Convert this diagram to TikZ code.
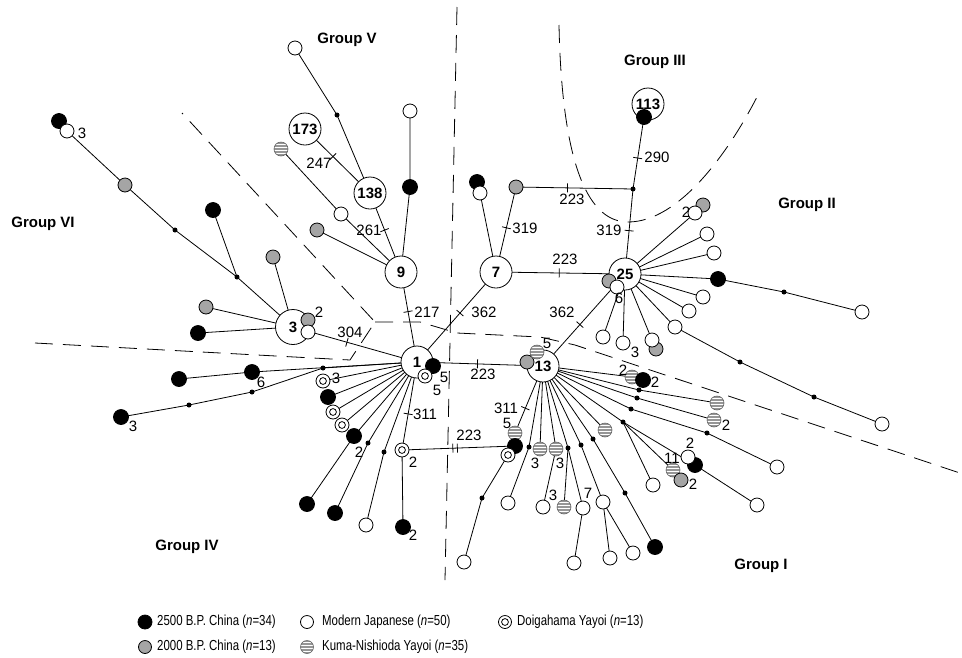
\documentclass[tikz,border=0pt]{standalone}
\usepackage{fontspec}
\setmainfont{Liberation Sans}
\newfontfamily\legfont[FakeStretch=0.79]{Liberation Sans}
\usetikzlibrary{calc}
\pgfdeclarelayer{bg}
\pgfsetlayers{bg,main}
\definecolor{cgray}{RGB}{165,165,165}
\definecolor{sgray}{RGB}{150,150,150}
\tikzset{
 con/.style={line width=0.8pt},
 bign/.style={circle, draw, fill=white, line width=0.8pt, minimum size=32pt, inner sep=0pt, font=\bfseries\fontsize{15}{15}\selectfont},
 wn/.style={circle, draw, fill=white, line width=0.8pt, minimum size=14pt, inner sep=0pt},
 bn/.style={circle, draw=black, fill=black, line width=0.8pt, minimum size=15pt, inner sep=0pt},
 gn/.style={circle, draw=black, fill=cgray, line width=0.8pt, minimum size=14pt, inner sep=0pt},
 sn/.style={circle, draw=gray!80!black, fill=sgray, line width=0.6pt, minimum size=14pt, inner sep=0pt,
   path picture={\foreach \yy in {-4.2,-1.4,1.4,4.2}{\draw[white,line width=1pt] ([yshift=\yy pt]path picture bounding box.west) -- ([yshift=\yy pt]path picture bounding box.east);}}},
 dn/.style={wn, path picture={\draw[line width=0.8pt] (path picture bounding box.center) circle (3.4pt);}},
 mdot/.style={circle, fill=black, minimum size=5pt, inner sep=0pt},
 lab/.style={inner sep=0pt, font=\fontsize{15}{15}\selectfont},
 grp/.style={inner sep=0pt, font=\bfseries\fontsize{15}{15}\selectfont},
 bound/.style={line width=0.8pt, dash pattern=on 18pt off 10pt},
 mtick/.style={sloped, draw, rectangle, inner sep=0pt, minimum width=0pt, minimum height=9pt, line width=0.8pt},
 legt/.style={inner sep=0pt, anchor=west, font=\legfont\fontsize{14.5}{14.5}\selectfont},
}
\begin{document}
\begin{tikzpicture}[x=1pt,y=-1pt]
\useasboundingbox (0,0) rectangle (962,657);
% ---------- big nodes
\node[bign] (n1) at (417,362) {1};
\node[bign, minimum size=35pt] (n3) at (293,327) {3};
\node[bign] (n9) at (401,272) {9};
\node[bign] (n138) at (370,193) {138};
\node[bign] (n173) at (305,129) {173};
\node[bign] (n7) at (496,272) {7};
\node[bign] (n25) at (625,274) {25};
\node[bign] (n113) at (648,104) {113};
\node[bign] (n13) at (543,366) {13};
% ---------- Group VI
\node[bn] (bVIa0) at (59,121) {};
\node[wn] (wVI) at (67,131) {};
\node[gn] (gVIa) at (125,185) {};
\node[mdot] (dVIa) at (175,230) {};
\node[mdot] (dVIb) at (237,277) {};
\node[bn] (bVIa) at (213,210) {};
\node[gn] (gVIb) at (273,257) {};
\node[gn] (gVIc) at (206,307) {};
\node[bn] (bVIb) at (198,333) {};
\node[gn] (gVId) at (308,320) {};
\node[wn] (wVId) at (308,332) {};
% ---------- Group V
\node[wn] (wV1) at (295,48) {};
\node[mdot] (dV1) at (337,115) {};
\node[sn] (sV) at (281,149) {};
\node[wn] (wV2) at (341,214) {};
\node[gn] (gV) at (317,230) {};
\node[wn] (wV3) at (410,111) {};
\node[bn] (bV) at (410,187) {};
% ---------- Group III
\node[bn] (bIII) at (644,117) {};
\node[mdot] (dA) at (633,189) {};
\node[gn] (gIII) at (516,187) {};
\node[bn] (bIIIb) at (477,182) {};
\node[wn] (wIII) at (480,193) {};
% ---------- Group II
\node[gn] (gII1) at (703,205) {};
\node[wn] (wII1) at (695,213) {};
\node[wn] (wII2) at (707,234) {};
\node[wn] (wII3) at (714,253) {};
\node[bn] (bII) at (718,279) {};
\node[mdot] (dII1) at (784,292) {};
\node[wn] (wII4) at (862,312) {};
\node[wn] (wII5) at (703,297) {};
\node[wn] (wII6) at (689,311) {};
\node[wn] (wII7) at (675,327) {};
\node[mdot] (dII2) at (740,362) {};
\node[mdot] (dII3) at (814,397) {};
\node[wn] (wII8) at (882,424) {};
\node[gn] (gII2) at (656,349) {};
\node[wn] (wII9) at (652,340) {};
\node[wn] (wII10) at (623,343) {};
\node[wn] (wII11) at (603,337) {};
\node[gn] (gII3) at (609,281) {};
\node[wn] (wII12) at (617,287) {};
% ---------- Group I
\node[gn] (gI0) at (527,362) {};
\node[sn] (sI0) at (537,352) {};
\node[sn] (sI1) at (632,377) {};
\node[bn] (bI1) at (643,380) {};
\node[mdot] (dI1) at (639,390) {};
\node[sn] (sI2) at (717,403) {};
\node[mdot] (dI2) at (637,398) {};
\node[sn] (sI3) at (714,420) {};
\node[mdot] (dI3) at (631,409) {};
\node[mdot] (dI4) at (707,433) {};
\node[wn] (wI1) at (777,467) {};
\node[mdot] (dI5) at (623,422) {};
\node[wn] (wI2) at (653,485) {};
\node[bn] (bI2) at (695,465) {};
\node[wn] (wI4) at (688,457) {};
\node[sn] (sI4) at (673,470) {};
\node[gn] (gI1) at (681,480) {};
\node[wn] (wI3) at (757,505) {};
\node[sn] (sI5) at (605,430) {};
\node[mdot] (dI6) at (593,439) {};
\node[mdot] (dI7) at (625,493) {};
\node[bn] (bI3) at (655,547) {};
\node[mdot] (dI8) at (581,445) {};
\node[wn] (wI5) at (603,502) {};
\node[wn] (wI6) at (610,558) {};
\node[wn] (wI7) at (633,553) {};
\node[mdot] (dI9) at (568,448) {};
\node[sn] (sI6) at (564,507) {};
\node[wn] (wI8) at (583,508) {};
\node[wn] (wI9) at (574,563) {};
\node[sn] (sI7) at (556,449) {};
\node[wn] (wI10) at (543,507) {};
\node[sn] (sI8) at (540,449) {};
\node[mdot] (dI10) at (529,447) {};
\node[wn] (wI11) at (508,503) {};
\node[sn] (sI9) at (515,433) {};
\node[bn] (bI4) at (515,446) {};
\node[dn] (dnI1) at (508,455) {};
\node[mdot] (dI11) at (482,498) {};
\node[wn] (wI12) at (464,562) {};
% ---------- Group IV
\node[bn] (bIV0) at (433,366) {};
\node[dn] (dn0) at (425,376) {};
\node[bn] (bIV1) at (179,379) {};
\node[bn] (bIV2) at (252,372) {};
\node[bn] (bIV3) at (121,417) {};
\node[mdot] (dIV1) at (189,405) {};
\node[mdot] (dIV2) at (252,392) {};
\node[mdot] (dIV3) at (323,368) {};
\node[dn] (dn1) at (323,381) {};
\node[bn] (bIV4) at (328,397) {};
\node[dn] (dn2) at (333,412) {};
\node[dn] (dn3) at (342,425) {};
\node[bn] (bIV5) at (354,436) {};
\node[bn] (bIV6) at (307,504) {};
\node[mdot] (dIV4) at (368,443) {};
\node[bn] (bIV7) at (335,513) {};
\node[mdot] (dIV5) at (384,452) {};
\node[wn] (wIV1) at (366,525) {};
\node[dn] (dn4) at (402,450) {};
\node[bn] (bIV8) at (403,527) {};
% ---------- connectors and boundaries
\begin{pgfonlayer}{bg}
\draw[bound] (35,343) -- (350,360) -- (375,322) -- (182,113);
\draw[bound] (375,322) -- (420,322) -- (457,333) -- (540,337) -- (575,345) -- (960,473);
\draw[bound] (457,7) -- (445,580);
\draw[bound] (559,25) .. controls (562,170) and (590,222) .. (628,222) .. controls (680,222) and (730,150) .. (758,95);
% VI
\draw[con] (wVI.center) -- (gVIa.center) -- (dVIa.center) -- (dVIb.center) -- (n3.center);
\draw[con] (bVIa.center) -- (dVIb.center);
\draw[con] (gVIb.center) -- (n3.center);
\draw[con] (gVIc.center) -- (n3.center);
\draw[con] (bVIb.center) -- (n3.center);
\draw[con] (n3.center) -- node[mtick,pos=.435]{} (n1.center);
% V
\draw[con] (wV1.center) -- (dV1.center) -- (n138.center);
\draw[con] (n173.center) -- node[mtick,pos=.43]{} (n138.center);
\draw[con] (n138.center) -- node[mtick,pos=.47]{} (n9.center);
\draw[con] (sV.center) -- (wV2.center) -- (n9.center);
\draw[con] (gV.center) -- (n9.center);
\draw[con] (wV3.center) -- (bV.center) -- (n9.center);
\draw[con] (n9.center) -- node[mtick,pos=.44]{} (n1.center);
% III
\draw[con] (bIII.center) -- node[mtick,pos=.57]{} (dA.center);
\draw[con] (dA.center) -- node[mtick,pos=.49]{} (n25.center);
\draw[con] (dA.center) -- node[mtick,pos=.56]{} (gIII.center);
\draw[con] (gIII.center) -- node[mtick,pos=.48]{} (n7.center);
\draw[con] (wIII.center) -- (n7.center);
\draw[con] (n7.center) -- node[mtick,pos=.49]{} (n25.center);
\draw[con] (n7.center) -- node[mtick,pos=.456]{} (n1.center);
% II
\foreach \tg in {wII1,wII2,wII3,bII,wII5,wII6,wII7,wII9,wII10,wII11}
  \draw[con] (n25.center) -- (\tg.center);
\draw[con] (bII.center) -- (dII1.center) -- (wII4.center);
\draw[con] (wII7.center) -- (dII2.center) -- (dII3.center) -- (wII8.center);
\draw[con] (n13.center) -- node[mtick,pos=.45]{} (n25.center);
% I
\draw[con] (n1.center) -- node[mtick,pos=.48]{} (n13.center);
\foreach \tg in {sI1,dI1,dI2,dI3,dI5,sI5,dI6,dI8,dI9,sI7,sI8,dI10}
  \draw[con] (n13.center) -- (\tg.center);
\draw[con] (dI1.center) -- (sI2.center);
\draw[con] (dI2.center) -- (sI3.center);
\draw[con] (dI3.center) -- (dI4.center) -- (wI1.center);
\draw[con] (dI5.center) -- (wI2.center);
\draw[con] (dI5.center) -- (sI4.center);
\draw[con] (dI5.center) -- (bI2.center) -- (wI3.center);
\draw[con] (dI6.center) -- (dI7.center) -- (bI3.center);
\draw[con] (dI8.center) -- (wI5.center) -- (wI6.center);
\draw[con] (wI5.center) -- (wI7.center);
\draw[con] (dI9.center) -- (sI6.center);
\draw[con] (dI9.center) -- (wI8.center) -- (wI9.center);
\draw[con] (sI7.center) -- (wI10.center);
\draw[con] (dI10.center) -- (wI11.center);
\draw[con] (n13.center) -- node[mtick,pos=.63]{} (sI9.center);
\draw[con] (dn4.center) -- node[mtick,pos=.45]{} node[mtick,pos=.49]{} (bI4.center);
\draw[con] (dnI1.center) -- (dI11.center) -- (wI12.center);
% IV
\draw[con] (bIV1.center) -- (bIV2.center) -- (n1.center);
\draw[con] (bIV3.center) -- (dIV1.center) -- (dIV2.center) -- (dIV3.center) -- (n1.center);
\foreach \tg in {dn1,bIV4,dn2,dn3,bIV5,dIV4,dIV5}
  \draw[con] (n1.center) -- (\tg.center);
\draw[con] (bIV5.center) -- (bIV6.center);
\draw[con] (dIV4.center) -- (bIV7.center);
\draw[con] (dIV5.center) -- (wIV1.center);
\draw[con] (n1.center) -- node[mtick,pos=.59]{} (dn4.center);
\draw[con] (dn4.center) -- (bIV8.center);
\end{pgfonlayer}
% ---------- mutation labels
\node[lab] (t247) at (319,163) {247};
\node[lab] (t261) at (369,230) {261};
\node[lab] (t217) at (427,312) {217};
\node[lab] (t362a) at (484,312) {362};
\node[lab] (t290) at (657,157) {290};
\node[lab] (t319a) at (609,230) {319};
\node[lab] (t223a) at (572,199) {223};
\node[lab] (t319b) at (525,228) {319};
\node[lab] (t223b) at (565,259) {223};
\node[lab] (t362b) at (562,312) {362};
\node[lab] (t304) at (350,332) {304};
\node[lab] (t223c) at (483,374) {223};
\node[lab] (t311a) at (425,414) {311};
\node[lab] (t223d) at (469,435) {223};
\node[lab] (t311b) at (506,408) {311};
% ---------- count labels
\node[lab] (c1) at (82,133) {3};
\node[lab] (c2) at (319,312) {2};
\node[lab] (c3) at (261,382) {6};
\node[lab] (c4) at (133,426) {3};
\node[lab] (c5) at (336,378) {3};
\node[lab] (c6) at (444,377) {5};
\node[lab] (c7) at (437,390) {5};
\node[lab] (c8) at (359,452) {2};
\node[lab] (c9) at (413,462) {2};
\node[lab] (c10) at (413,535) {2};
\node[lab] (c11) at (507,423) {5};
\node[lab] (c12) at (547,343) {5};
\node[lab] (c13) at (535,463) {3};
\node[lab] (c14) at (560,463) {3};
\node[lab] (c15) at (553,495) {3};
\node[lab] (c16) at (588,493) {7};
\node[lab] (c17) at (623,370) {2};
\node[lab] (c18) at (655,382) {2};
\node[lab] (c19) at (726,425) {2};
\node[lab] (c20) at (690,443) {2};
\node[lab] (c21) at (672,458) {11};
\node[lab] (c22) at (693,484) {2};
\node[lab] (c23) at (686,212) {2};
\node[lab] (c24) at (619,298) {6};
\node[lab] (c25) at (635,352) {3};
% ---------- group labels
\node[grp] (gl5) at (347,40) {Group V};
\node[grp] (gl6) at (43,224) {Group VI};
\node[grp] (gl3) at (655,62) {Group III};
\node[grp] (gl2) at (807,205) {Group II};
\node[grp] (gl4) at (187,547) {Group IV};
\node[grp] (gl1) at (761,566) {Group I};
% ---------- legend
\node[bn, minimum size=14pt] (kb) at (145,622) {};
\node[legt] (kbt) at (157,622) {2500 B.P. China (\textit{n}=34)};
\node[gn, minimum size=13pt] (kg) at (145,647) {};
\node[legt] (kgt) at (157,647) {2000 B.P. China (\textit{n}=13)};
\node[wn, minimum size=13pt] (kw) at (307,622) {};
\node[legt] (kwt) at (322,622) {Modern Japanese (\textit{n}=50)};
\node[sn, minimum size=13pt] (ks) at (307,647) {};
\node[legt] (kst) at (322,647) {Kuma-Nishioda Yayoi (\textit{n}=35)};
\node[dn, minimum size=13pt] (kd) at (505,622) {};
\node[legt] (kdt) at (517,622) {Doigahama Yayoi (\textit{n}=13)};
\end{tikzpicture}
\end{document}
